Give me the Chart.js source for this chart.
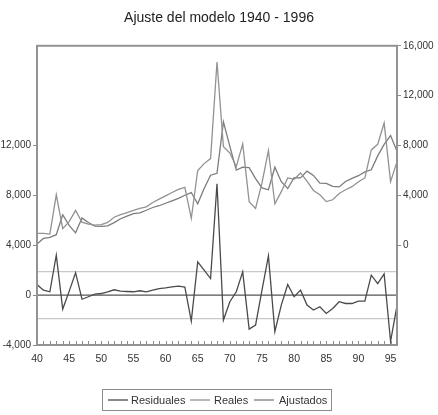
<!DOCTYPE html>
<html>
<head>
<meta charset="utf-8">
<script src="https://cdn.jsdelivr.net/npm/chart.js@4/dist/chart.umd.min.js"></script>
<style>
  html, body { margin: 0; padding: 0; background: #fff; }
  #wrap { width: 438px; height: 415px; position: relative; }
</style>
</head>
<body>
<div id="wrap"><canvas id="c" width="438" height="415"></canvas></div>
<script>
// ---- data ----
const title = "Ajuste del modelo 1940 - 1996";
const years = [1940,1941,1942,1943,1944,1945,1946,1947,1948,1949,
               1950,1951,1952,1953,1954,1955,1956,1957,1958,1959,
               1960,1961,1962,1963,1964,1965,1966,1967,1968,1969,
               1970,1971,1972,1973,1974,1975,1976,1977,1978,1979,
               1980,1981,1982,1983,1984,1985,1986,1987,1988,1989,
               1990,1991,1992,1993,1994,1995,1996];
const residuales = [850,400,270,3200,-1120,300,1800,-330,-130,80,
                    130,270,430,320,290,270,350,270,400,530,
                    590,670,720,640,-2080,2670,2000,1330,8930,-2000,
                    -530,270,1870,-2720,-2400,400,3150,-2930,-800,850,
                    -130,400,-800,-1200,-930,-1470,-1070,-530,-670,-670,
                    -480,-480,1600,930,1710,-3700,-850];
const reales = [950,950,900,4050,1330,1900,2800,1850,1700,1620,
                1650,1830,2250,2450,2620,2800,2950,3080,3430,3700,
                3960,4230,4480,4650,2150,6000,6550,6950,14700,7900,
                7400,6300,8130,3500,2950,5000,7600,3330,4300,5400,
                5300,5800,5150,4400,4050,3500,3650,4150,4450,4700,
                5100,5400,7650,8100,9800,5100,6700];
const ajustados = [100,550,630,850,2450,1600,1000,2180,1830,1540,
                   1520,1560,1820,2130,2330,2530,2600,2810,3030,3170,
                   3370,3560,3760,4010,4230,3330,4550,5620,5770,9900,
                   7930,6030,6260,6220,5350,4600,4450,6260,5100,4550,
                   5430,5400,5950,5600,4980,4970,4720,4680,5120,5370,
                   5580,5880,6050,7170,8090,8800,7550];
const seBand = 1880;            // +/- 1 S.E. reference lines for residuals
const legendLabels = ["Residuales", "Reales", "Ajustados"];
// ----------------------------------------

const FONT = "'Liberation Sans', Arial, sans-serif";
const fmt = v => v.toLocaleString('en-US');

const pts = arr => years.map((yr, i) => ({ x: yr, y: arr[i] }));

const framePlugin = {
  id: 'frame',
  beforeDatasetsDraw(chart) {
    const { ctx, chartArea: a, scales } = chart;
    const y = scales.y;
    ctx.save();
    ctx.strokeStyle = '#c8c8c8';
    ctx.lineWidth = 1.2;
    [seBand, -seBand].forEach(v => {
      const py = y.getPixelForValue(v);
      ctx.beginPath(); ctx.moveTo(a.left, py); ctx.lineTo(a.right, py); ctx.stroke();
    });
    ctx.strokeStyle = '#555';
    ctx.lineWidth = 1.2;
    const p0 = y.getPixelForValue(0);
    ctx.beginPath(); ctx.moveTo(a.left, p0); ctx.lineTo(a.right, p0); ctx.stroke();
    ctx.restore();
  },
  afterDraw(chart) {
    const { ctx, chartArea: a, scales } = chart;
    const x = scales.x;
    ctx.save();
    ctx.strokeStyle = '#939393';
    ctx.lineWidth = 2;
    ctx.strokeRect(a.left, a.top, a.right - a.left, a.bottom - a.top);
    ctx.lineWidth = 1;
    ctx.strokeStyle = '#8c8c8c';
    years.forEach(yr => {
      const px = Math.round(x.getPixelForValue(yr)) + 0.5;
      ctx.beginPath(); ctx.moveTo(px, a.bottom); ctx.lineTo(px, a.bottom - 4); ctx.stroke();
    });
    // legend
    const bx = 102, by = 389, bw = 229, bh = 21;
    ctx.strokeStyle = '#8c8c8c';
    ctx.lineWidth = 1;
    ctx.strokeRect(bx + 0.5, by + 0.5, bw, bh);
    const items = [
      { lx: 108, tx: 131, color: chart.data.datasets[0].borderColor },
      { lx: 190, tx: 214, color: chart.data.datasets[1].borderColor },
      { lx: 254, tx: 279, color: chart.data.datasets[2].borderColor }
    ];
    ctx.font = "11px " + FONT;
    ctx.textBaseline = 'middle';
    ctx.textAlign = 'left';
    ctx.fillStyle = '#333';
    items.forEach((it, i) => {
      ctx.strokeStyle = it.color;
      ctx.lineWidth = 1.3;
      ctx.beginPath(); ctx.moveTo(it.lx, by + 11); ctx.lineTo(it.lx + 20, by + 11); ctx.stroke();
      ctx.fillText(legendLabels[i], it.tx, by + 11.5);
    });
    ctx.restore();
  }
};

new Chart(document.getElementById('c'), {
  type: 'line',
  data: {
    datasets: [
      { label: legendLabels[0], data: pts(residuales), yAxisID: 'y',
        borderColor: '#4a4a4a', borderWidth: 1.3, pointRadius: 0, tension: 0 },
      { label: legendLabels[1], data: pts(reales), yAxisID: 'y2',
        borderColor: '#929292', borderWidth: 1.3, pointRadius: 0, tension: 0 },
      { label: legendLabels[2], data: pts(ajustados), yAxisID: 'y2',
        borderColor: '#7c7c7c', borderWidth: 1.3, pointRadius: 0, tension: 0 }
    ]
  },
  options: {
    responsive: false,
    animation: false,
    events: [],
    layout: { padding: { left: 0, right: 0, top: 0, bottom: 45 }, autoPadding: false },
    plugins: {
      legend: { display: false },
      tooltip: { enabled: false },
      title: {
        display: true, text: title, color: '#222',
        font: { family: FONT, size: 14, weight: 'normal' },
        padding: { top: 10, bottom: 19 }
      }
    },
    scales: {
      x: {
        type: 'linear', min: 1940, max: 1996,
        afterFit: s => { s.height = 25; },
        afterBuildTicks: s => { s.ticks = years.filter(v => v % 5 === 0).map(v => ({ value: v })); },
        grid: { display: false, drawTicks: false },
        border: { display: false },
        ticks: {
          padding: 8, color: '#333', maxRotation: 0, autoSkip: false,
          font: { family: FONT, size: 10.5 },
          callback: v => String(v).slice(2)
        }
      },
      y: {
        position: 'left', min: -4000, max: 20000,
        afterFit: s => { s.width = 37; },
        border: { display: false },
        grid: {
          drawOnChartArea: false, drawTicks: true, tickLength: 4,
          tickColor: c => (c.tick && c.tick.value > 12000) ? 'rgba(0,0,0,0)' : '#8c8c8c'
        },
        ticks: {
          stepSize: 4000, padding: 2, color: '#333',
          font: { family: FONT, size: 10 },
          callback: v => v > 12000 ? '' : fmt(v)
        }
      },
      y2: {
        position: 'right', min: -8000, max: 16000,
        afterFit: s => { s.width = 41; },
        border: { display: false },
        grid: {
          drawOnChartArea: false, drawTicks: true, tickLength: 4,
          tickColor: c => (c.tick && c.tick.value < 0) ? 'rgba(0,0,0,0)' : '#8c8c8c'
        },
        ticks: {
          stepSize: 4000, padding: 2, color: '#333',
          font: { family: FONT, size: 10 },
          callback: v => v < 0 ? '' : fmt(v)
        }
      }
    }
  },
  plugins: [framePlugin]
});
</script>
</body>
</html>
